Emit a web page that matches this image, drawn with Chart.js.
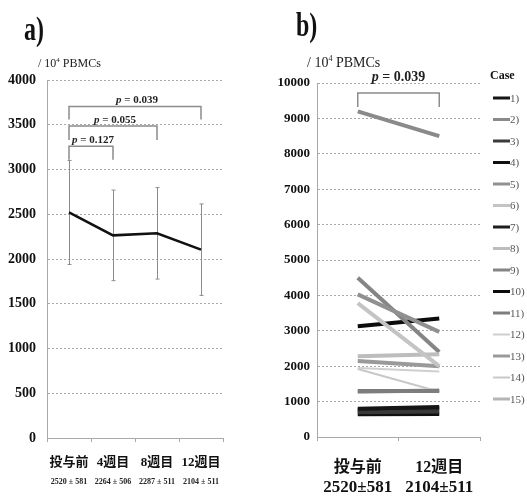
<!DOCTYPE html>
<html>
<head>
<meta charset="utf-8">
<script src="https://cdn.jsdelivr.net/npm/chart.js@4/dist/chart.umd.min.js"></script>
<style>
  html,body{margin:0;padding:0;background:#fff;}
  #wrap{position:relative;width:527px;height:502px;overflow:hidden;background:#fff;}
  #ca{position:absolute;left:0;top:0;}
  #cb{position:absolute;left:260px;top:0;}
</style>
</head>
<body>
<div id="wrap">
  <canvas id="ca" width="260" height="502"></canvas>
  <canvas id="cb" width="267" height="502"></canvas>
</div>
<script>
// ---------- Panel a) data ----------
const categoriesA = ['投与前', '4週目', '8週目', '12週目'];
const meansA = [2520, 2264, 2287, 2104];
const sdA = [581, 506, 511, 511];
const subLabelsA = ['2520 ± 581', '2264 ± 506', '2287 ± 511', '2104 ± 511'];
const yMaxA = 4000, yStepA = 500;
// comparisons: from index, to index, bracket value, leg value, p text
const compFromA = [0, 0, 0];
const compToA = [1, 2, 3];
const compYA = [3260, 3485, 3705];
const compLegA = [3110, 3330, 3560];
const compTextA = ['0.127', '0.055', '0.039'];

// ---------- Panel b) data ----------
const categoriesB = ['投与前', '12週目'];
const subLabelsB = ['2520±581', '2104±511'];
const caseLabelsB = ['1)', '2)', '3)', '4)', '5)', '6)', '7)', '8)', '9)', '10)', '11)', '12)', '13)', '14)', '15)'];
const preB  = [800, 9200, 700, 640, 4030, 3780, 760, 2280, 4500, 3130, 1300, 1950, 2150, 1920, 1270];
const postB = [850, 8500, 720, 650, 2970, 2000, 800, 2340, 2400, 3350, 1300, 1850, 2000, 1280, 1320];
const caseColorsB = ['#151515', '#8a8a8a', '#3a3a3a', '#101010', '#909090', '#c4c4c4', '#1e1e1e', '#bdbdbd',
                     '#858585', '#0c0c0c', '#7d7d7d', '#cfcfcf', '#9a9a9a', '#c8c8c8', '#b5b5b5'];
const caseWidthsB = [4, 4, 4, 4, 4, 4, 4, 4, 4, 4, 4, 2, 4, 2, 4];
const yMaxB = 10000, yStepB = 1000;
const compTextB = '0.039';
const compYB = 9720, compLegB = 9320;

const SERIF = "'Liberation Serif', 'Noto Sans CJK JP', serif";
const GRID = '#a8a8a8';

function drawPText(ctx, cx, baseY, value, size) {
  ctx.save();
  ctx.textBaseline = 'alphabetic';
  const pFont = 'italic bold ' + size + 'px ' + SERIF;
  const rFont = 'bold ' + size + 'px ' + SERIF;
  ctx.font = pFont; const w1 = ctx.measureText('p').width;
  ctx.font = rFont; const rest = ' = ' + value; const w2 = ctx.measureText(rest).width;
  let x = cx - (w1 + w2) / 2;
  ctx.fillStyle = '#222';
  ctx.font = pFont; ctx.textAlign = 'left'; ctx.fillText('p', x, baseY);
  ctx.font = rFont; ctx.fillText(rest, x + w1, baseY);
  ctx.restore();
}

function drawUnit(ctx, x, baseY, size) {
  ctx.save();
  ctx.fillStyle = '#222';
  ctx.textAlign = 'left'; ctx.textBaseline = 'alphabetic';
  ctx.font = size + 'px ' + SERIF;
  let t = '/ 10'; ctx.fillText(t, x, baseY); x += ctx.measureText(t).width;
  ctx.font = Math.round(size * 0.6) + 'px ' + SERIF;
  ctx.fillText('4', x, baseY - size * 0.4); x += ctx.measureText('4').width;
  ctx.font = size + 'px ' + SERIF;
  ctx.fillText(' PBMCs', x, baseY);
  ctx.restore();
}

function drawTitle(ctx, text, x, baseY) {
  ctx.save();
  ctx.translate(x, baseY);
  ctx.scale(0.8, 1.1);
  ctx.fillStyle = '#111';
  ctx.font = 'bold 30px ' + SERIF;
  ctx.textAlign = 'left'; ctx.textBaseline = 'alphabetic';
  ctx.fillText(text, 0, 0);
  ctx.restore();
}

const plainTick = function (v) { return String(v); };

// ---------- Panel a) ----------
const pluginA = {
  id: 'extrasA',
  beforeDatasetsDraw(chart) {
    const ctx = chart.ctx, xs = chart.scales.x, ys = chart.scales.y;
    ctx.save();
    ctx.strokeStyle = '#8c8c8c'; ctx.lineWidth = 1;
    meansA.forEach((m, i) => {
      const x = Math.round(xs.getPixelForValue(i)) + 0.5;
      const yt = ys.getPixelForValue(m + sdA[i]);
      const yb = ys.getPixelForValue(m - sdA[i]);
      ctx.beginPath();
      ctx.moveTo(x, yt); ctx.lineTo(x, yb);
      ctx.moveTo(x - 2, yt); ctx.lineTo(x + 2, yt);
      ctx.moveTo(x - 2, yb); ctx.lineTo(x + 2, yb);
      ctx.stroke();
    });
    ctx.strokeStyle = '#8c8c8c'; ctx.lineWidth = 1.5;
    compFromA.forEach((f, k) => {
      const x1 = xs.getPixelForValue(f), x2 = xs.getPixelForValue(compToA[k]);
      const yb = ys.getPixelForValue(compYA[k]), yl = ys.getPixelForValue(compLegA[k]);
      ctx.beginPath();
      ctx.moveTo(x1, yl); ctx.lineTo(x1, yb); ctx.lineTo(x2, yb); ctx.lineTo(x2, yl);
      ctx.stroke();
      drawPText(ctx, (x1 + x2) / 2 + 2, yb - 3, compTextA[k], 11);
    });
    ctx.restore();
  },
  afterDraw(chart) {
    const ctx = chart.ctx, xs = chart.scales.x;
    drawTitle(ctx, 'a)', 24, 40);
    drawUnit(ctx, 38, 67, 12);
    ctx.save();
    ctx.fillStyle = '#222'; ctx.textAlign = 'center'; ctx.textBaseline = 'middle';
    ctx.font = 'bold 8px ' + SERIF;
    subLabelsA.forEach((s, i) => ctx.fillText(s, xs.getPixelForValue(i), 482));
    ctx.restore();
  }
};

new Chart(document.getElementById('ca'), {
  type: 'line',
  data: {
    labels: categoriesA,
    datasets: [{
      data: meansA,
      borderColor: '#111',
      borderWidth: 2.5,
      pointRadius: 0,
      tension: 0,
      fill: false
    }]
  },
  options: {
    responsive: false,
    animation: false,
    events: [],
    layout: { padding: { top: 80, right: 37, left: 0, bottom: 0 } },
    plugins: { legend: { display: false }, tooltip: { enabled: false } },
    scales: {
      x: {
        offset: true,
        grid: { offset: true, drawOnChartArea: false, drawTicks: true, tickLength: 4, color: GRID },
        border: { display: true, color: GRID, width: 1 },
        ticks: { color: '#111', padding: 13, autoSkip: false, font: { family: SERIF, size: 13, weight: 'bold' }, maxRotation: 0, minRotation: 0 },
        afterFit(s) { s.height = 64; }
      },
      y: {
        min: 0, max: yMaxA,
        ticks: { stepSize: yStepA, callback: plainTick, color: '#111', padding: 11, font: { family: SERIF, size: 14, weight: 'bold' } },
        grid: { color: GRID, lineWidth: 1, drawTicks: false },
        border: { display: true, color: GRID, dash: [2, 2] },
        afterFit(s) { s.width = 47; }
      }
    }
  },
  plugins: [pluginA]
});

// ---------- Panel b) ----------
const pluginB = {
  id: 'extrasB',
  afterDatasetsDraw(chart) {
    const ctx = chart.ctx, xs = chart.scales.x, ys = chart.scales.y;
    ctx.save();
    const x1 = xs.getPixelForValue(0), x2 = xs.getPixelForValue(1);
    const yb = ys.getPixelForValue(compYB), yl = ys.getPixelForValue(compLegB);
    ctx.strokeStyle = '#8c8c8c'; ctx.lineWidth = 1.5;
    ctx.beginPath();
    ctx.moveTo(x1, yl); ctx.lineTo(x1, yb); ctx.lineTo(x2, yb); ctx.lineTo(x2, yl);
    ctx.stroke();
    ctx.restore();
    drawPText(ctx, (x1 + x2) / 2, 81, compTextB, 14);
  },
  afterDraw(chart) {
    const ctx = chart.ctx, xs = chart.scales.x;
    drawTitle(ctx, 'b)', 36, 36);
    drawUnit(ctx, 47, 67, 14);
    ctx.save();
    ctx.fillStyle = '#111'; ctx.textAlign = 'center'; ctx.textBaseline = 'middle';
    ctx.font = 'bold 17px ' + SERIF;
    subLabelsB.forEach((s, i) => ctx.fillText(s, xs.getPixelForValue(i), 488));
    ctx.font = 'bold 12px ' + SERIF;
    ctx.textAlign = 'left';
    ctx.fillText('Case', 230, 76);
    ctx.font = '11px ' + SERIF;
    chart.data.datasets.forEach((ds, i) => {
      const y = 98 + i * 21.5;
      ctx.strokeStyle = ds.borderColor; ctx.lineWidth = Math.max(2, ds.borderWidth - 1);
      ctx.beginPath(); ctx.moveTo(233, y); ctx.lineTo(250, y); ctx.stroke();
      ctx.fillStyle = '#555';
      ctx.fillText(ds.label, 250, y + 1);
    });
    ctx.restore();
  }
};

new Chart(document.getElementById('cb'), {
  type: 'line',
  data: {
    labels: categoriesB,
    datasets: caseLabelsB.map((c, i) => ({
      label: c,
      data: [preB[i], postB[i]],
      borderColor: caseColorsB[i],
      borderWidth: caseWidthsB[i],
      pointRadius: 0,
      tension: 0,
      fill: false
    }))
  },
  options: {
    responsive: false,
    animation: false,
    events: [],
    layout: { padding: { top: 83, right: 47, left: 0, bottom: 0 } },
    plugins: { legend: { display: false }, tooltip: { enabled: false } },
    scales: {
      x: {
        offset: true,
        grid: { offset: true, drawOnChartArea: false, drawTicks: true, tickLength: 4, color: GRID },
        border: { display: true, color: GRID, width: 1 },
        ticks: { color: '#111', padding: 17, autoSkip: false, font: { family: SERIF, size: 16, weight: 'bold' }, maxRotation: 0, minRotation: 0 },
        afterFit(s) { s.height = 65; }
      },
      y: {
        min: 0, max: yMaxB,
        ticks: { stepSize: yStepB, callback: plainTick, color: '#111', padding: 7, font: { family: SERIF, size: 13, weight: 'bold' } },
        grid: { color: GRID, lineWidth: 1, drawTicks: false },
        border: { display: true, color: GRID, dash: [2, 2] },
        afterFit(s) { s.width = 57; }
      }
    }
  },
  plugins: [pluginB]
});
</script>
</body>
</html>
